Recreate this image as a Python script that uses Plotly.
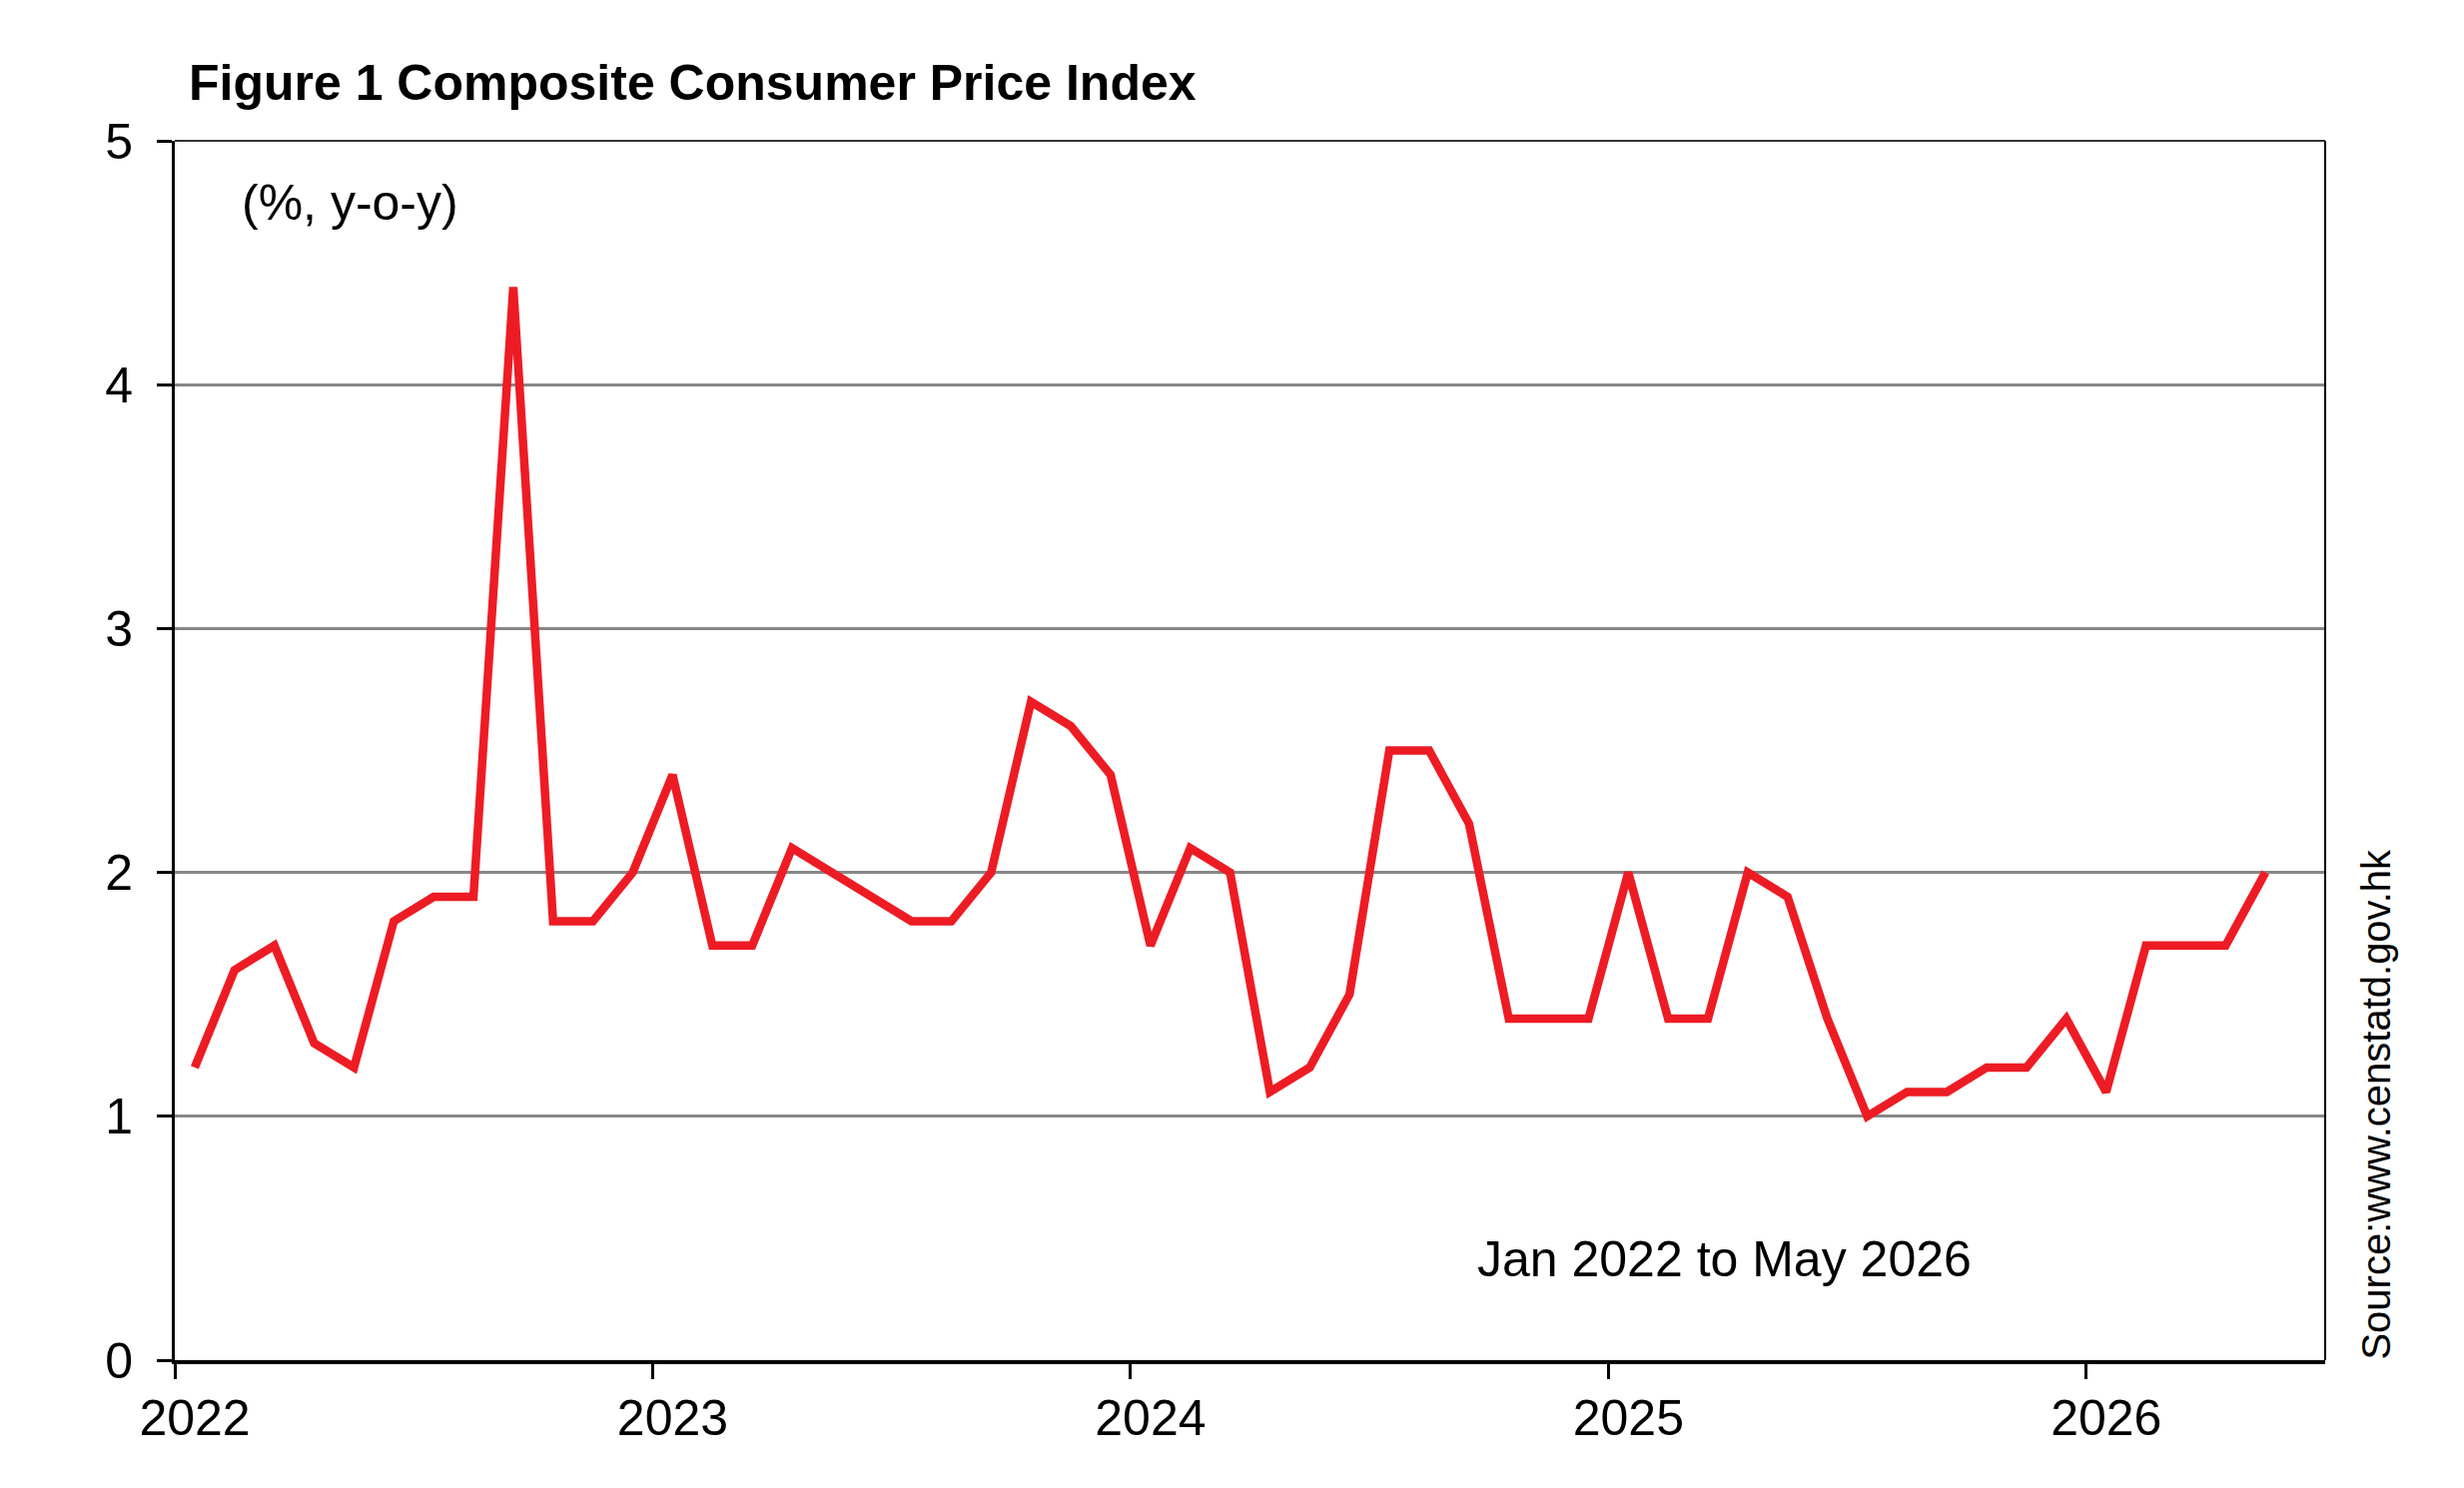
import numpy as np
import pandas as pd
import plotly.graph_objects as go

# monthly composite CPI, % change year-on-year (Jan 2022 - May 2026)
months = pd.date_range("2022-01-01", "2026-05-01", freq="MS").strftime("%b %Y").tolist()
cpi_yoy = [
    1.2, 1.6, 1.7, 1.3, 1.2, 1.8, 1.9, 1.9, 4.4, 1.8, 1.8, 2.0,   # 2022
    2.4, 1.7, 1.7, 2.1, 2.0, 1.9, 1.8, 1.8, 2.0, 2.7, 2.6, 2.4,   # 2023
    1.7, 2.1, 2.0, 1.1, 1.2, 1.5, 2.5, 2.5, 2.2, 1.4, 1.4, 1.4,   # 2024
    2.0, 1.4, 1.4, 2.0, 1.9, 1.4, 1.0, 1.1, 1.1, 1.2, 1.2, 1.4,   # 2025
    1.1, 1.7, 1.7, 1.7, 2.0,                                      # 2026
]
year_ticks = [0, 12, 24, 36, 48]
year_labels = ["2022", "2023", "2024", "2025", "2026"]
y_ticks = [0, 1, 2, 3, 4, 5]

FONT = "Liberation Sans, Arial, sans-serif"

# plot each month in the middle of its slot
x_pos = np.arange(len(cpi_yoy)) + 0.5

fig = go.Figure()
fig.add_trace(go.Scatter(
    x=x_pos,
    y=cpi_yoy,
    mode="lines",
    line=dict(color="#ED1C24", width=8.5),
    text=months,
    hovertemplate="%{text}: %{y}%<extra></extra>",
    showlegend=False,
))

# page body has an 8px margin, so margins are trimmed to compensate
fig.update_layout(
    width=2467,
    height=1490,
    margin=dict(l=167, r=147, t=133, b=136),
    paper_bgcolor="white",
    plot_bgcolor="white",
    font=dict(family=FONT, color="black", size=48),
)

fig.update_xaxes(
    range=[0, 54],
    tickmode="array",
    tickvals=year_ticks,
    ticktext=year_labels,
    ticks="outside",
    ticklen=15,
    tickwidth=3,
    tickcolor="black",
    ticklabelshift=20,
    ticklabelstandoff=-4,
    tickfont=dict(size=50),
    showline=True,
    linecolor="black",
    linewidth=4,
    showgrid=False,
    zeroline=False,
)
fig.update_yaxes(
    range=[0, 5],
    tickmode="array",
    tickvals=y_ticks,
    ticks="outside",
    ticklen=15,
    tickwidth=3,
    tickcolor="black",
    ticklabelstandoff=14,
    tickfont=dict(size=50),
    showline=True,
    linecolor="black",
    linewidth=3,
    showgrid=True,
    gridcolor="#878787",
    gridwidth=3,
    zeroline=False,
)

# thin frame on top and right
fig.add_shape(type="line", xref="paper", yref="paper", x0=0, x1=1, y0=1, y1=1,
              line=dict(color="#333333", width=2))
fig.add_shape(type="line", xref="paper", yref="paper", x0=1, x1=1, y0=0, y1=1,
              line=dict(color="black", width=2))

fig.add_annotation(
    text="<b>Figure 1 Composite Consumer Price Index</b>",
    xref="paper", yref="paper", x=0.0055, y=1.0475,
    xanchor="left", yanchor="middle", showarrow=False,
    font=dict(size=50),
)
fig.add_annotation(
    text="(%, y-o-y)",
    xref="paper", yref="paper", x=0.030, y=0.9492,
    xanchor="left", yanchor="middle", showarrow=False,
    font=dict(size=50),
)
fig.add_annotation(
    text="Jan 2022 to May 2026",
    xref="paper", yref="paper", x=0.6047, y=0.0827,
    xanchor="left", yanchor="middle", showarrow=False,
    font=dict(size=50),
)
fig.add_annotation(
    text="Source:www.censtatd.gov.hk",
    xref="paper", yref="paper", x=1.0237, y=0.21,
    xanchor="center", yanchor="middle", showarrow=False,
    textangle=-90,
    font=dict(size=40),
)

fig.write_html("out.html")
